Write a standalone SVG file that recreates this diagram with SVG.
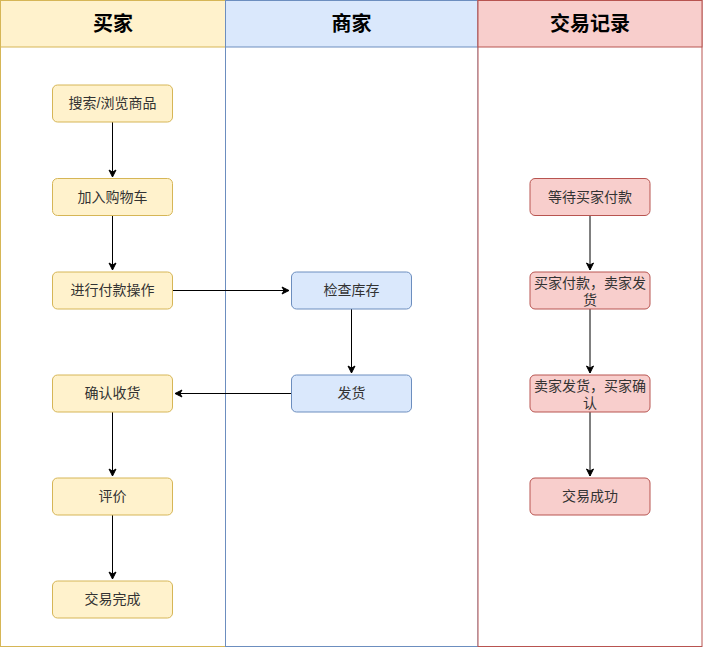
<svg xmlns="http://www.w3.org/2000/svg" width="703" height="647" viewBox="0 0 703 647">
<style>
.h{font-family:"Liberation Sans","Noto Sans CJK SC",sans-serif;font-size:20px;font-weight:bold;fill:#000;text-anchor:middle}
.t{font-family:"Liberation Sans","Noto Sans CJK SC",sans-serif;font-size:14px;fill:#333;text-anchor:middle}
.y{fill:#fff2cc;stroke:#d6b656}
.b{fill:#dae8fc;stroke:#6c8ebf}
.r{fill:#f8cecc;stroke:#b85450}
.c{fill:none;stroke:#000;stroke-width:1}
</style>
<defs>
<marker id="a" markerWidth="10" markerHeight="10" refX="8" refY="5" orient="auto" markerUnits="userSpaceOnUse">
<path d="M1,1.5 L8,5 L1,8.5 L3,5 Z" fill="#000" stroke="#000" stroke-width="1"/>
</marker>
</defs>
<rect width="703" height="647" fill="#fff"/>
<g id="lane-buyer">
<rect x="0.5" y="0.5" width="225" height="646" fill="#fff" stroke="#d6b656"/>
<rect x="0.5" y="0.5" width="225" height="46.5" class="y"/>
<text x="113" y="31" class="h">买家</text>
</g>
<g id="lane-merchant">
<rect x="225.5" y="0.5" width="252.5" height="646" fill="#fff" stroke="#6c8ebf"/>
<rect x="225.5" y="0.5" width="252.5" height="46.5" class="b"/>
<text x="351.5" y="31" class="h">商家</text>
</g>
<g id="lane-record">
<rect x="478" y="0.5" width="224" height="646" fill="#fff" stroke="#b85450"/>
<rect x="478" y="0.5" width="224" height="46.5" class="r"/>
<text x="590" y="31" class="h">交易记录</text>
</g>
<g id="connectors">
<path class="c" d="M112.5,122 V177" marker-end="url(#a)"/>
<path class="c" d="M112.5,215 V270" marker-end="url(#a)"/>
<path class="c" d="M173,290.5 H289" marker-end="url(#a)"/>
<path class="c" d="M351.5,309 V373" marker-end="url(#a)"/>
<path class="c" d="M291,393.5 H175" marker-end="url(#a)"/>
<path class="c" d="M112.5,412 V476" marker-end="url(#a)"/>
<path class="c" d="M112.5,515 V579" marker-end="url(#a)"/>
<path class="c" d="M590,215 V270" marker-end="url(#a)"/>
<path class="c" d="M590,309 V373" marker-end="url(#a)"/>
<path class="c" d="M590,412 V476" marker-end="url(#a)"/>
</g>
<g id="n1"><rect x="52.5" y="85" width="120" height="37" rx="5" class="y"/><text x="112.5" y="108" class="t">搜索/浏览商品</text></g>
<g id="n2"><rect x="52.5" y="178.5" width="120" height="37" rx="5" class="y"/><text x="112.5" y="201.5" class="t">加入购物车</text></g>
<g id="n3"><rect x="52.5" y="272" width="120" height="37" rx="5" class="y"/><text x="112.5" y="295" class="t">进行付款操作</text></g>
<g id="n4"><rect x="52.5" y="375" width="120" height="37" rx="5" class="y"/><text x="112.5" y="398" class="t">确认收货</text></g>
<g id="n5"><rect x="52.5" y="478" width="120" height="37" rx="5" class="y"/><text x="112.5" y="501" class="t">评价</text></g>
<g id="n6"><rect x="52.5" y="581" width="120" height="37" rx="5" class="y"/><text x="112.5" y="604" class="t">交易完成</text></g>
<g id="m1"><rect x="291.5" y="272" width="120" height="37" rx="5" class="b"/><text x="351.5" y="295" class="t">检查库存</text></g>
<g id="m2"><rect x="291.5" y="375" width="120" height="37" rx="5" class="b"/><text x="351.5" y="398" class="t">发货</text></g>
<g id="r1"><rect x="530" y="178.5" width="120" height="37" rx="5" class="r"/><text x="590" y="201.5" class="t">等待买家付款</text></g>
<g id="r2"><rect x="530" y="272" width="120" height="37" rx="5" class="r"/><text x="590" y="288" class="t">买家付款，卖家发</text><text x="590" y="305" class="t">货</text></g>
<g id="r3"><rect x="530" y="375" width="120" height="37" rx="5" class="r"/><text x="590" y="391" class="t">卖家发货，买家确</text><text x="590" y="408" class="t">认</text></g>
<g id="r4"><rect x="530" y="478" width="120" height="37" rx="5" class="r"/><text x="590" y="501" class="t">交易成功</text></g>
</svg>
